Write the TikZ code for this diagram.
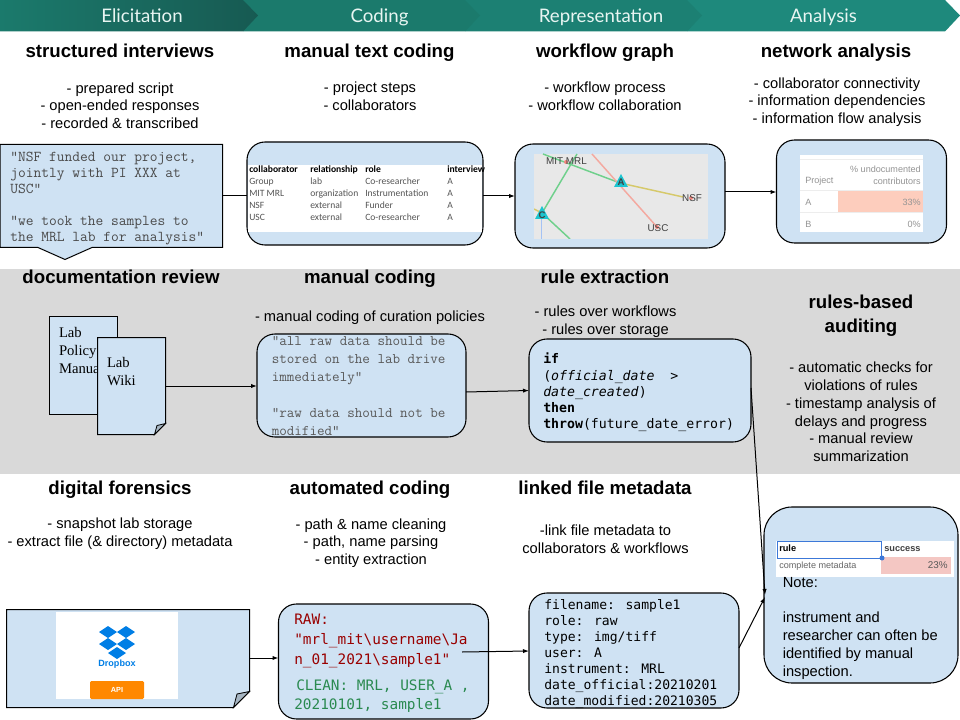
\documentclass[tikz,border=0pt]{standalone}
\usepackage{fontspec}
\setmainfont{Liberation Sans}
\newfontfamily\headfont{Lato}
\newfontfamily\codefont{DejaVu Sans Mono}
\newfontfamily\seriffont{Liberation Serif}
\newfontfamily\tabfont{Carlito}
\usetikzlibrary{arrows.meta}
\definecolor{boxblue}{HTML}{CFE2F3}
\definecolor{bandgrey}{HTML}{D9D9D9}
\definecolor{headA}{HTML}{1B7A6C}
\definecolor{headAd}{HTML}{175A52}
\definecolor{headB}{HTML}{1B7A6C}
\definecolor{headC}{HTML}{1C8073}
\definecolor{headD}{HTML}{1E897C}
\definecolor{headtext}{HTML}{E8F5F2}
\definecolor{rawred}{HTML}{990000}
\definecolor{cleangreen}{HTML}{2A8A50}
\definecolor{monogrey}{HTML}{4A4A4A}
\definecolor{tabgrey}{HTML}{555555}
\definecolor{foldgrey}{HTML}{A6B5C2}
\definecolor{edgegreen}{HTML}{6FD08C}
\definecolor{edgered}{HTML}{F4A9A0}
\definecolor{edgeyellow}{HTML}{D6C96A}
\definecolor{edgeblue}{HTML}{A4C2F4}
\definecolor{triteal}{HTML}{1CC5D0}
\definecolor{peach}{HTML}{FDCDBD}
\definecolor{pink}{HTML}{F4C7C3}
\definecolor{selblue}{HTML}{3C78D8}
\definecolor{dropblue}{HTML}{007EE5}
\definecolor{apiorange}{HTML}{FF8800}
\newcommand\px[1]{#1*0.75pt}
\tikzset{
  headlabel/.style={text=headtext,font=\headfont\fontsize{14}{16}\selectfont,inner sep=0pt,anchor=base},
  title/.style={font=\bfseries\fontsize{14}{17}\selectfont,inner sep=0pt,anchor=base},
  bullets/.style={font=\fontsize{11}{13.3}\selectfont,inner sep=0pt,align=center},
  rbox/.style={draw=black,fill=boxblue,line width=0.8pt,rounded corners=13.5pt,anchor=north west,inner sep=0pt,outer sep=0pt},
  plainshape/.style={draw=black,fill=boxblue,line width=0.75pt},
  holder/.style={anchor=north west,inner sep=0pt,outer sep=0pt},
  courtext/.style={font=\ttfamily\fontsize{11.3}{12}\selectfont,text=monogrey,inner sep=0pt,align=left,anchor=west},
  metatext/.style={font=\codefont\fontsize{9.8}{12}\selectfont,inner sep=0pt,align=left,anchor=west},
  flow/.style={line width=0.75pt,-{Latex[length=4.5pt,width=3.2pt]}},
  link/.style={line width=0.75pt},
  tabcell/.style={font=\tabfont\fontsize{7.2}{9}\selectfont,text=tabgrey,inner sep=0pt,anchor=west,text height=5.2pt,text depth=1.5pt},
  tabhead/.style={font=\tabfont\bfseries\fontsize{7.2}{9}\selectfont,text=black,inner sep=0pt,anchor=west,text height=5.2pt,text depth=1.5pt},
  graphlabel/.style={font=\fontsize{7.4}{9}\selectfont,text=black!75,inner sep=0pt},
  tinytab/.style={font=\fontsize{6.8}{9}\selectfont,text=black!42,inner sep=0pt},
  trilabel/.style={font=\bfseries\fontsize{7.2}{8}\selectfont,text=black!75,inner sep=0pt},
  audithead/.style={font=\fontsize{6.9}{9}\selectfont\bfseries,inner sep=0pt,anchor=west,text height=5.2pt,text depth=1.5pt},
}
\begin{document}
\begin{tikzpicture}[x=0.75pt,y=-0.75pt]
\useasboundingbox (0,0) rectangle (960,720);
\fill[white] (0,0) rectangle (960,720);
% grey band
\fill[bandgrey] (0,269) rectangle (960,473.5);
% header chevrons
\fill[headD] (687,0) -- (945,0) -- (960,15.5) -- (945,31.5) -- (687,31.5) -- cycle;
\fill[headC] (465,0) -- (687,0) -- (702,15.5) -- (687,31.5) -- (465,31.5) -- cycle;
\fill[headB] (243,0) -- (465,0) -- (480,15.5) -- (465,31.5) -- (243,31.5) -- cycle;
\shade[left color=headA,right color=headAd] (0,0) -- (243,0) -- (258,15.5) -- (243,31.5) -- (0,31.5) -- cycle;
\node[headlabel] (h1) at (142,22.5) {Elicitation};
\node[headlabel] (h2) at (379.5,22.5) {Coding};
\node[headlabel] (h3) at (601,22.5) {Representation};
\node[headlabel] (h4) at (823.5,22.5) {Analysis};
% titles, row 1
\node[title] (t11) at (120,58) {structured interviews};
\node[title] (t12) at (369.5,58) {manual text coding};
\node[title] (t13) at (605,58) {workflow graph};
\node[title] (t14) at (836,58) {network analysis};
\node[bullets] (b11) at (120,105.5) {- prepared script\\- open-ended responses\\- recorded \& transcribed};
\node[bullets] (b12) at (370,96) {- project steps\\- collaborators};
\node[bullets] (b13) at (605,96) {- workflow process\\- workflow collaboration};
\node[bullets] (b14) at (837,102) {- collaborator connectivity\\- information dependencies\\- information flow analysis};
% callout
\draw[plainshape] (0,144.5) -- (222.5,144.5) -- (222.5,247.5) -- (92,247.5) -- (65,259.5) -- (38,247.5) -- (0,247.5) -- cycle;
\node[holder,minimum width=\px{222},minimum height=\px{103}] (callout) at (0,144) {};
\node[courtext] (callouttext) at (10,199) {"NSF funded our project,\\jointly with PI XXX at\\USC"\\\\"we took the samples to\\the MRL lab for analysis"};
% table box
\node[rbox,minimum width=\px{236},minimum height=\px{103}] (tablebox) at (247,142) {};
\fill[white] (248,165) rectangle (482,232);
\foreach \x/\t/\n in {249/collaborator/a,310/relationship/b,365/role/c,447/interview/d}
  \node[tabhead] (th\n) at (\x,170) {\t};
\foreach \y/\a/\b/\c/\n in {182/Group/lab/Co-researcher/a,194/MIT MRL/organization/Instrumentation/b,206/NSF/external/Funder/c,218/USC/external/Co-researcher/d}{
  \node[tabcell] (ra\n) at (249,\y) {\a};
  \node[tabcell] (rb\n) at (310,\y) {\b};
  \node[tabcell] (rc\n) at (365,\y) {\c};
  \node[tabcell] (rd\n) at (447,\y) {A};
}
% workflow graph box
\node[rbox,minimum width=\px{210},minimum height=\px{104}] (graphbox) at (515,144) {};
\fill[black!9] (534,154) rectangle (708,239);
\begin{scope}
\clip (534,154) rectangle (708,239);
\draw[edgegreen,line width=1.1pt] (543,154) -- (620,183);
\draw[edgegreen,line width=1.1pt] (577,154) -- (542,213) -- (570,239);
\draw[edgered,line width=1.1pt] (592,154) -- (657,227);
\draw[edgeyellow,line width=1.1pt] (620,183) -- (683,197);
\draw[edgeyellow,line width=1.1pt] (534,209) -- (542,213);
\draw[edgeblue,line width=1.1pt] (541.7,213) -- (541.7,239);
\fill[edgered!80!red] (566,162) circle (2);
\fill[edgered!80!red] (691,198) circle (2);
\fill[edgered!80!red] (657,227) circle (2);
\end{scope}
\fill[triteal] (621,174) -- (614,187) -- (628,187) -- cycle;
\fill[triteal] (542,206) -- (535,219) -- (549,219) -- cycle;
\node[trilabel] (na) at (621,182.5) {A};
\node[trilabel] (nc) at (542,215) {C};
\node[graphlabel] (lm) at (566.5,161) {MIT MRL};
\node[graphlabel] (ln) at (692,198.5) {NSF};
\node[graphlabel] (lu) at (658,228) {USC};
% undocumented box
\node[rbox,minimum width=\px{170},minimum height=\px{103}] (undocbox) at (776.5,140) {};
\fill[white] (800,155) rectangle (923,232);
\draw[black!7,line width=0.8pt] (800,159.5) -- (923,159.5);
\draw[black!7,line width=0.8pt] (800,190.5) -- (923,190.5);
\draw[black!7,line width=0.8pt] (800,212.5) -- (923,212.5);
\fill[peach] (838,191) rectangle (923,212);
\node[tinytab,anchor=east] (u1) at (921,169.5) {\% undocumented};
\node[tinytab,anchor=east] (u2) at (921,181.5) {contributors};
\node[tinytab,anchor=west] (u3) at (805,181.5) {Project};
\node[tinytab,anchor=west] (u4) at (805,202.5) {A};
\node[tinytab,anchor=east] (u5) at (921,202.5) {33\%};
\node[tinytab,anchor=west] (u6) at (805,224) {B};
\node[tinytab,anchor=east] (u7) at (921,224) {0\%};
% row 1 connectors
\draw[link] (callout.east |- 0,195.5) -- (tablebox.west |- 0,195.5);
\draw[flow] (tablebox.east |- 0,196) -- (graphbox.west |- 0,196);
\draw[flow] (graphbox.east |- 0,192) -- (undocbox.west |- 0,192);
% row 2 titles
\node[title] (t21) at (121,284) {documentation review};
\node[title] (t22) at (370,284) {manual coding};
\node[title] (t23) at (605,284) {rule extraction};
\node[title] (t24) at (861,309) {rules-based};
\node[title] (t25) at (861,332) {auditing};
\node[bullets] (b22) at (370,317.5) {- manual coding of curation policies};
\node[bullets] (b23) at (605.5,322) {- rules over workflows\\- rules over storage};
\node[bullets] (b24) at (861,412) {- automatic checks for\\violations of rules\\- timestamp analysis of\\delays and progress\\- manual review\\summarization};
% documents
\draw[plainshape] (49.5,316.5) rectangle (117.5,414.5);
\node[holder,font=\seriffont\fontsize{11}{13.5}\selectfont,align=left] (policy) at (59,327) {Lab\\Policy\\Manual};
\draw[plainshape] (97.5,337.5) -- (165.5,337.5) -- (165.5,423.5) -- (154.5,434.5) -- (97.5,434.5) -- cycle;
\fill[foldgrey,draw=black,line width=0.6pt] (165.5,423.5) -- (157,425.5) -- (154.5,434.5) -- cycle;
\node[holder,minimum width=\px{68},minimum height=\px{97}] (wikidoc) at (97.5,337.5) {};
\node[holder,font=\seriffont\fontsize{11}{13.5}\selectfont,align=left] (wiki) at (107,357) {Lab\\Wiki};
% manual coding box
\node[rbox,minimum width=\px{209},minimum height=\px{103}] (policybox) at (257,334) {};
\node[courtext,font=\ttfamily\fontsize{11}{13.5}\selectfont,text=black!65] (policytext) at (271.5,386) {"all raw data should be\\stored on the lab drive\\immediately"\\\\"raw data should not be\\modified"};
% rule box
\node[rbox,minimum width=\px{222},minimum height=\px{103}] (rulebox) at (529,339) {};
\node[metatext,font=\codefont\fontsize{9.9}{12.2}\selectfont] (ruletext) at (543,392.5) {\textbf{if}\\(\textit{official\_date}\ \ >\\\textit{date\_created})\\\textbf{then}\\\textbf{throw}(future\_date\_error)};
\draw[flow] (wikidoc.east |- 0,386) -- (policybox.west |- 0,386);
\draw[flow] (policybox.east |- 0,392) -- (rulebox.west |- 0,390.5);
% row 3 titles
\node[title] (t31) at (120,494) {digital forensics};
\node[title] (t32) at (370,494) {automated coding};
\node[title] (t33) at (605,494) {linked file metadata};
\node[bullets] (b31) at (120,534) {- snapshot lab storage\\- extract file (\& directory) metadata};
\node[bullets] (b32) at (371,543) {- path \& name cleaning\\- path, name parsing\\- entity extraction};
\node[bullets] (b33) at (605.5,539) {-link file metadata to\\collaborators \& workflows};
% dropbox document
\draw[plainshape] (6.5,609.5) -- (249.5,609.5) -- (249.5,691.5) -- (233.5,707.5) -- (6.5,707.5) -- cycle;
\fill[foldgrey,draw=black,line width=0.6pt] (249.5,691.5) -- (237,694) -- (233.5,707.5) -- cycle;
\node[holder,minimum width=\px{243},minimum height=\px{98}] (dropdoc) at (6.5,609.5) {};
\fill[white] (56,612) rectangle (178,699);
\foreach \cx/\cy in {108/632,126/632,108/644,126/644,117/653}
  \fill[dropblue] (\cx-9,\cy) -- (\cx,\cy-6) -- (\cx+9,\cy) -- (\cx,\cy+6) -- cycle;
\node[font=\bfseries\fontsize{6.8}{9}\selectfont,text=dropblue,inner sep=0pt] (dbx) at (117,664) {Dropbox};
\fill[apiorange,rounded corners=1pt] (90,681) rectangle (144,699);
\node[font=\bfseries\fontsize{5.5}{7}\selectfont,text=white,inner sep=0pt] (api) at (117,690) {API};
% raw box
\node[rbox,minimum width=\px{210},minimum height=\px{115}] (rawbox) at (278.5,604) {};
\node[metatext,font=\codefont\fontsize{10.8}{14.7}\selectfont,text=rawred] (rawtext) at (294,641) {RAW:\\"mrl\_mit\textbackslash username\textbackslash Ja\\n\_01\_2021\textbackslash sample1"};
\node[metatext,font=\codefont\fontsize{10.8}{14.7}\selectfont,text=cleangreen] (cleantext1) at (296,687) {CLEAN: MRL, USER\_A ,};
\node[metatext,font=\codefont\fontsize{10.8}{14.7}\selectfont,text=cleangreen] (cleantext2) at (294,705.5) {20210101, sample1};
% metadata box
\node[rbox,minimum width=\px{210},minimum height=\px{115}] (metabox) at (529,593) {};
\node[metatext] (metatext) at (544,654) {filename: sample1\\role: raw\\type: img/tiff\\user: A\\instrument: MRL\\date\_official:20210201\\date\_modified:20210305};
% audit box
\node[rbox,rounded corners=21pt,minimum width=\px{194},minimum height=\px{176}] (auditbox) at (764,507) {};
\fill[white] (776,541) rectangle (954,577);
\fill[pink] (881,557) rectangle (951,574);
\draw[selblue,line width=0.7pt] (777,541.5) rectangle (881,558);
\fill[selblue] (882,558) circle (2.5);
\node[audithead] (rh1) at (779,549.5) {rule};
\node[audithead,text=black!75] (rh2) at (884,549.5) {success};
\node[audithead,font=\fontsize{6.8}{9}\selectfont,text=black!60] (rc1) at (779,566) {complete metadata};
\node[audithead,font=\fontsize{7.4}{9}\selectfont,text=black!65,anchor=east] (rc2) at (948,566) {23\%};
\node[font=\fontsize{11}{13.3}\selectfont,inner sep=0pt,align=left,anchor=north west] (note) at (782.5,577) {Note:\\\\instrument and\\researcher can often be\\identified by manual\\inspection.};
% row 3 connectors
\coordinate (rawstart) at (462,652);
\coordinate (audittop) at (765,595);
\coordinate (auditmid) at (765,597);
\draw[flow] (dropdoc.east |- 0,658) -- (rawbox.west |- 0,658);
\draw[flow] (rawstart) -- (metabox.west |- 0,651);
\draw[flow] (rulebox.east |- 0,388) -- (audittop);
\draw[flow] (metabox.east |- 0,648) -- (auditmid);
\end{tikzpicture}
\end{document}
